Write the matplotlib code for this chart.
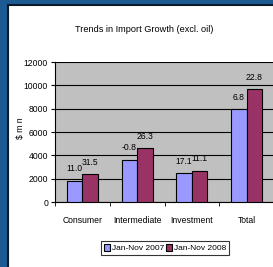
import matplotlib
matplotlib.use('Agg')
import matplotlib.pyplot as plt
import numpy as np

plt.rcParams['font.family'] = ['Liberation Sans Narrow', 'Liberation Sans', 'DejaVu Sans']

# data ($ mn)
categories = ['Consumer', 'Intermediate', 'Investment', 'Total']
jan_nov_2007 = [1800, 3630, 2450, 7950]
jan_nov_2008 = [2370, 4600, 2680, 9660]
growth_2007 = ['11.0', '-0.8', '17.1', '6.8']
growth_2008 = ['31.5', '26.3', '11.1', '22.8']
yticks = [0, 2000, 4000, 6000, 8000, 10000, 12000]

fs = 6.2

fig = plt.figure(figsize=(2.73, 2.67), dpi=100)
fig.patch.set_facecolor('#1b5b92')

# white panel with dark edge on top/left
panel = plt.Rectangle((8 / 273, 0), 1, 1 - 5 / 267, transform=fig.transFigure,
                      facecolor='white', edgecolor='none', zorder=-5)
fig.patches.append(panel)
fig.add_artist(plt.Line2D([8 / 273, 8 / 273], [0, 1 - 5 / 267], transform=fig.transFigure,
                          color='#0a1a2a', linewidth=1.5, zorder=-4))
fig.add_artist(plt.Line2D([8 / 273, 1], [1 - 5 / 267, 1 - 5 / 267], transform=fig.transFigure,
                          color='#0a1a2a', linewidth=1.5, zorder=-4))

ax = fig.add_axes([55 / 273, 1 - 202 / 267, 219 / 273, 140 / 267])
ax.set_facecolor('#c0c0c0')

x = np.arange(len(categories))
w = 0.285
b1 = ax.bar(x - w / 2, jan_nov_2007, w, color='#9999ff', edgecolor='black', linewidth=0.8,
            label='Jan-Nov 2007', zorder=3)
b2 = ax.bar(x + w / 2, jan_nov_2008, w, color='#993366', edgecolor='black', linewidth=0.8,
            label='Jan-Nov 2008', zorder=3)

for rect, lab in zip(b1, growth_2007):
    ax.text(rect.get_x() + rect.get_width() / 2, rect.get_height() + 650, lab,
            ha='center', va='bottom', fontsize=fs)
for rect, lab in zip(b2, growth_2008):
    ax.text(rect.get_x() + rect.get_width() / 2, rect.get_height() + 650, lab,
            ha='center', va='bottom', fontsize=fs)

ax.set_xlim(-0.5, 3.5)
ax.set_ylim(0, 12000)
ax.set_yticks(yticks)
ax.set_yticklabels([str(t) for t in yticks], fontsize=fs)
ax.yaxis.grid(True, color='black', linewidth=0.8, zorder=0)
ax.set_axisbelow(True)
ax.set_xticks(x)
ax.set_xticklabels(categories, fontsize=fs)
ax.set_xticks([-0.5, 0.5, 1.5, 2.5], minor=True)
ax.tick_params(axis='x', which='major', length=0, pad=10)
ax.tick_params(axis='x', which='minor', length=3, direction='out')
ax.tick_params(axis='y', length=3, pad=2)
for s in ['top', 'right']:
    ax.spines[s].set_visible(False)
ax.spines['left'].set_linewidth(0.8)
ax.spines['bottom'].set_linewidth(0.8)

fig.text(21 / 273, 1 - 128 / 267, '$ m n', rotation=90, ha='center', va='center', fontsize=fs)

fig.text(144 / 273, 1 - 30 / 267, 'Trends in Import Growth (excl. oil)', ha='center',
         va='center', fontsize=6.6)

leg = fig.legend(handles=[b1, b2], loc='center', bbox_to_anchor=(165 / 273, 1 - 248 / 267),
                 ncol=2, fontsize=6.0, frameon=True, fancybox=False, edgecolor='black',
                 handlelength=0.7, handleheight=0.9, handletextpad=0.2, columnspacing=0.3,
                 borderpad=0.35, borderaxespad=0)
leg.get_frame().set_linewidth(0.8)

fig.savefig('out.png', dpi=100, facecolor=fig.get_facecolor())
